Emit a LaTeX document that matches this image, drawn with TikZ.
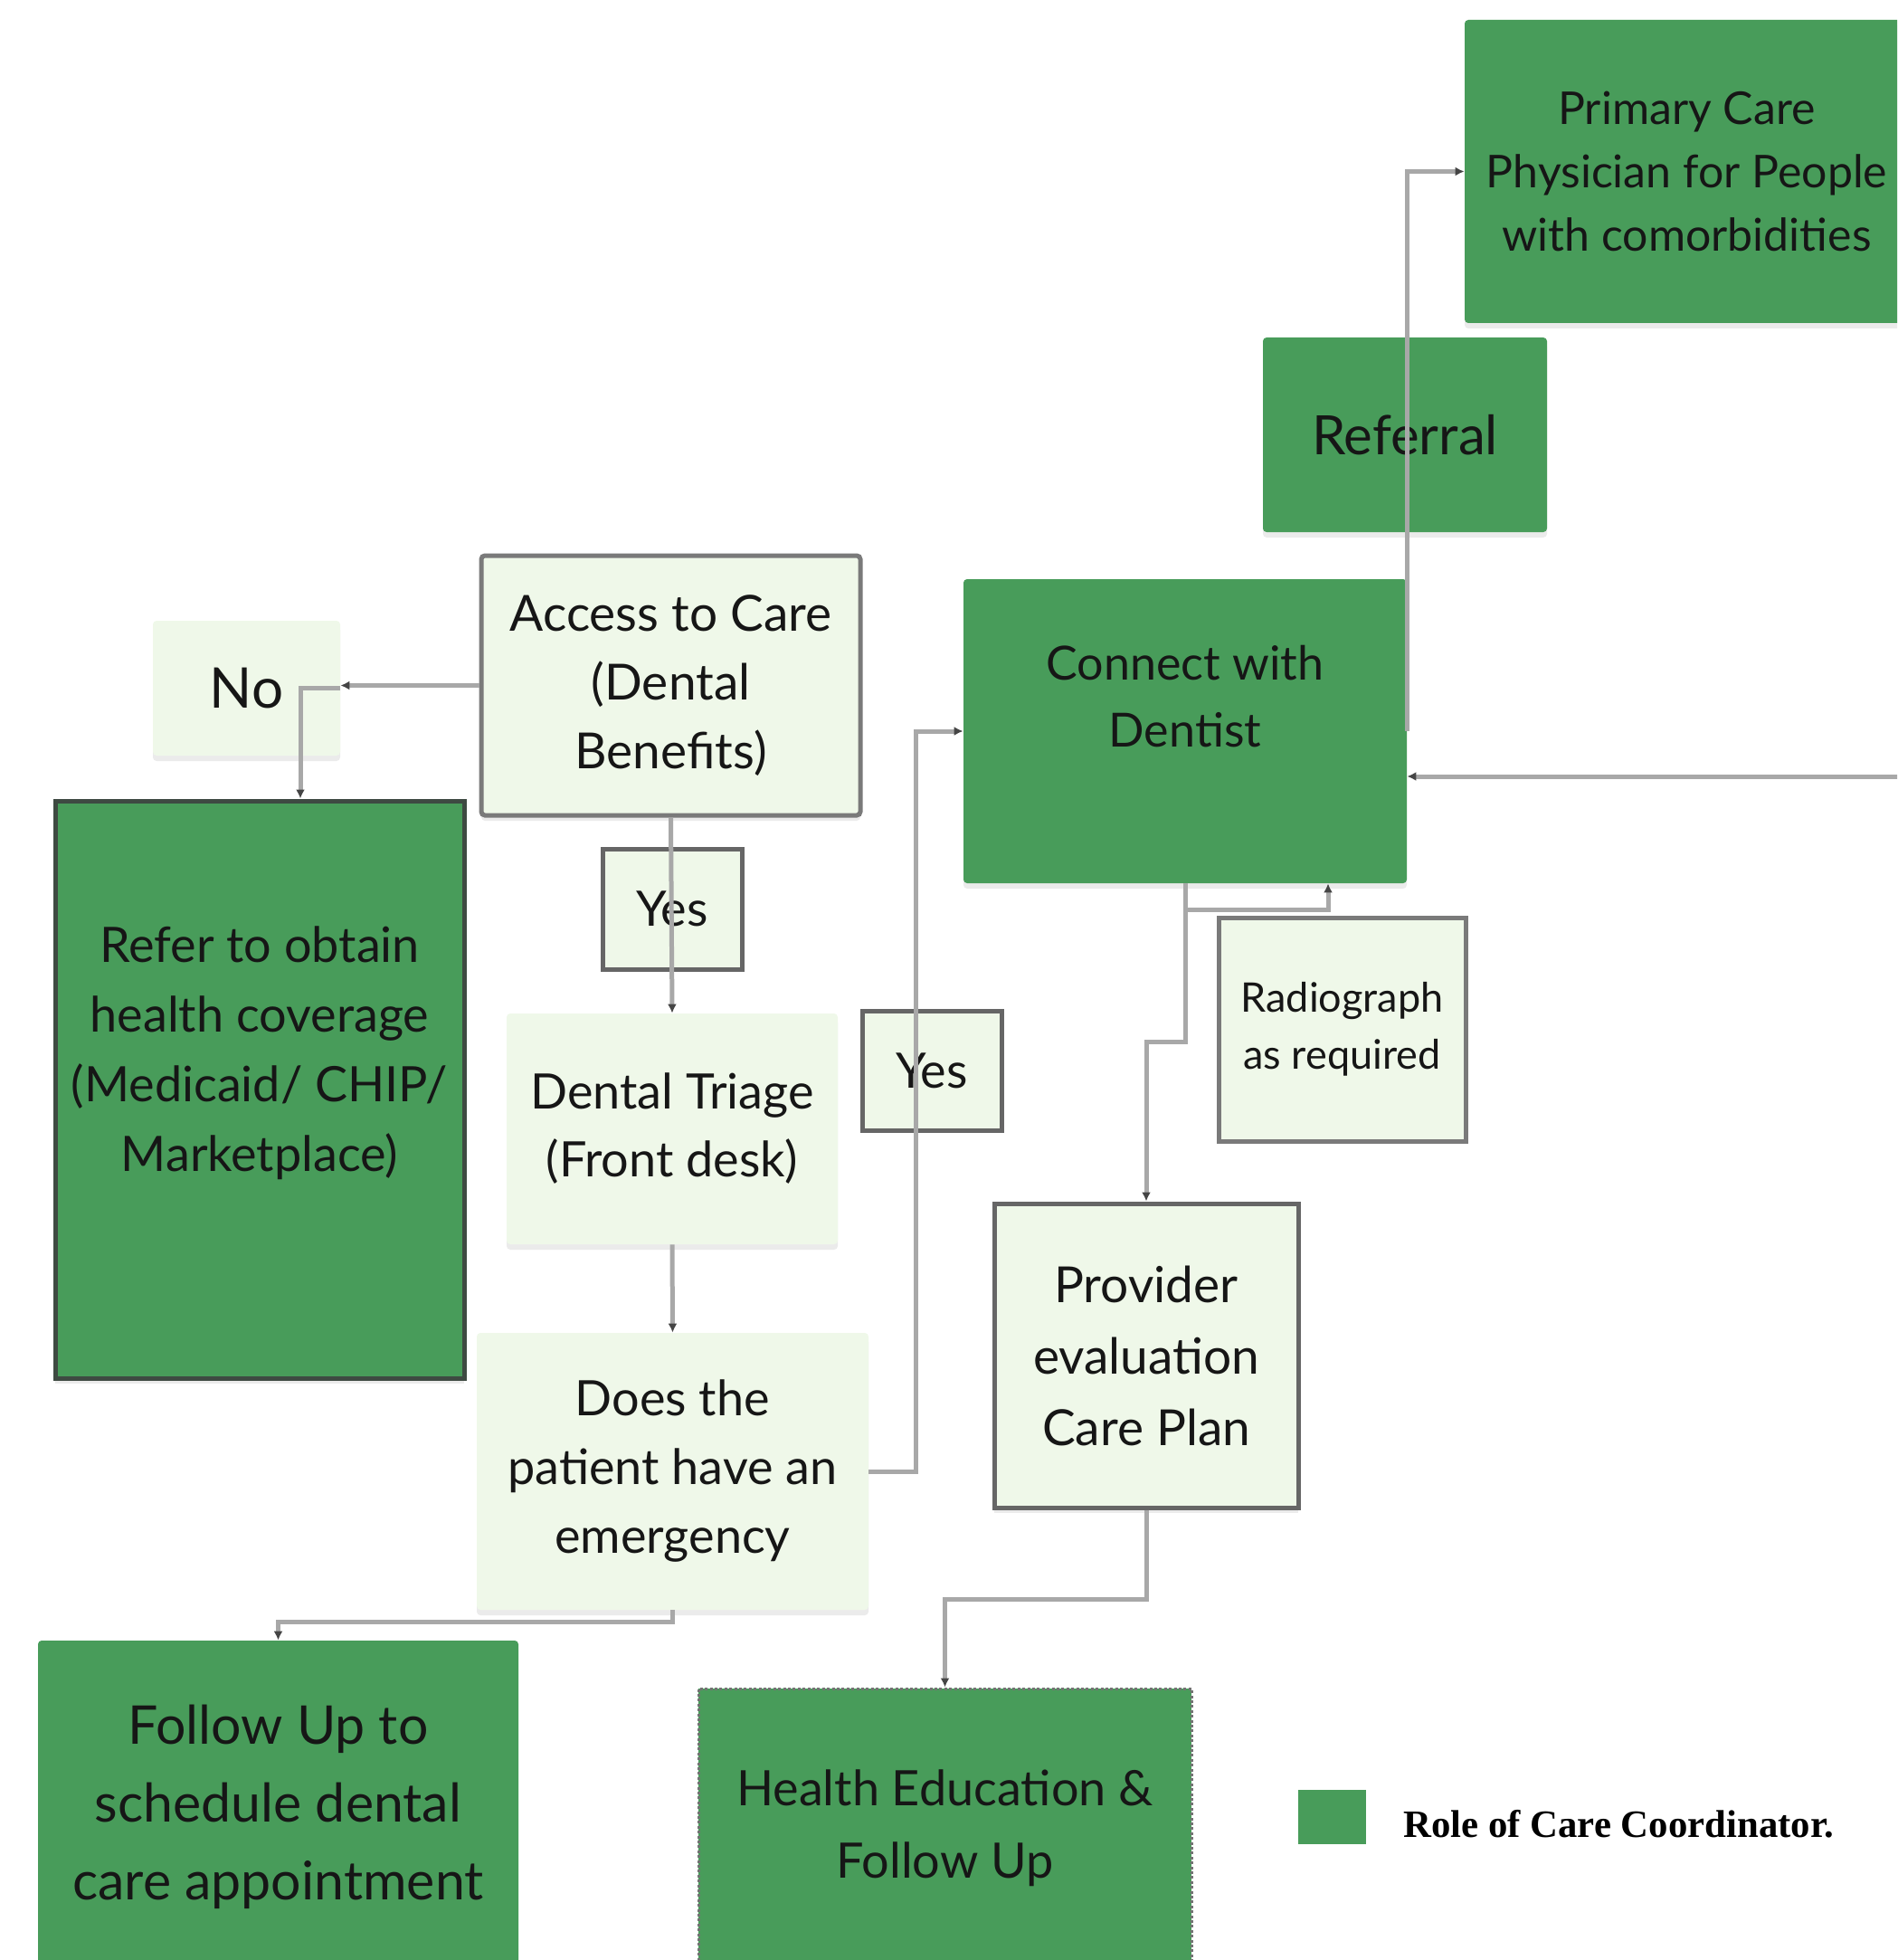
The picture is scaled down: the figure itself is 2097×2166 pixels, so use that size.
\documentclass[tikz,border=0pt]{standalone}
\usepackage{fontspec}
\newfontfamily\boxfont{Lato}
\newfontfamily\legfont{Liberation Serif}
\usetikzlibrary{arrows.meta,calc,shadows}
\definecolor{cgreen}{HTML}{489C5A}
\definecolor{clight}{HTML}{EFF8E9}
\definecolor{cline}{HTML}{A8A8A8}
\definecolor{ctip}{HTML}{454545}
\definecolor{cborder}{HTML}{7A7A7A}
\definecolor{cdark}{HTML}{3E4A42}
\definecolor{ctext}{HTML}{161616}
\begin{document}
\begin{tikzpicture}[x=0.5pt,y=-0.5pt,
  every node/.style={text=ctext, align=center, inner sep=0pt},
  fs/.style 2 args={font=\boxfont\fontsize{#1}{#2}\selectfont},
  soft/.style={drop shadow={shadow xshift=0pt,shadow yshift=-3pt,opacity=0.08,fill=black}},
  greenbox/.style={fill=cgreen, rounded corners=2pt, soft},
  lightbox/.style={fill=clight, rounded corners=2pt, soft},
  conn/.style={draw=cline, line width=2.5pt, -{Latex[length=5pt,width=5pt,color=ctip]}},
  plain/.style={draw=cline, line width=2.5pt}
]
\useasboundingbox (0,0) rectangle (2097,2166);
\clip (0,0) rectangle (2097,2166);

% ---- nodes ----
\node[greenbox, fs={25}{35}, minimum width=245.5pt, minimum height=167.5pt] (primary) at (1864.5,189.5)
  {Primary Care\\Physician for People\\with comorbidities};
\node[greenbox, fs={30}{40}, minimum width=157pt, minimum height=107.5pt] (referral) at (1553,480.5) {Referral};
\node[greenbox, minimum width=245pt, minimum height=168pt,
  label={[fs={26}{37}, align=center, yshift=19pt, text=ctext]center:Connect with\\Dentist}] (connect) at (1310,808) {};
\node[lightbox, draw=cborder, line width=2.5pt, fs={27.5}{38}, minimum width=209.5pt, minimum height=143.5pt] (access) at (741.5,757.5)
  {Access to Care\\(Dental\\Benefits)};
\node[lightbox, fs={31}{38}, minimum width=103.5pt, minimum height=74.5pt] (no) at (272.5,760.5) {No};
\node[fill=cgreen, draw=cdark, line width=2.5pt, soft, minimum width=226pt, minimum height=319pt,
  label={[fs={27}{38.5}, align=center, yshift=20pt, text=ctext]center:Refer to obtain\\health coverage\\(Medicaid/ CHIP/\\Marketplace)}] (refer) at (287,1204) {};
\node[fill=clight, draw=black!60, line width=2.5pt, fs={27}{36}, minimum width=77pt, minimum height=66.5pt] (yes1) at (743,1004.5) {Yes};
\node[lightbox, fs={27}{37.5}, minimum width=183pt, minimum height=127.5pt] (triage) at (743,1247.5)
  {Dental Triage\\(Front desk)};
\node[fill=clight, draw=black!60, line width=2.5pt, fs={27}{36}, minimum width=77pt, minimum height=66pt] (yes2) at (1030,1183) {Yes};
\node[fill=clight, draw=cborder, line width=2.5pt, fs={22.5}{31.5}, minimum width=136.5pt, minimum height=123.5pt] (radio) at (1483.5,1137.5)
  {Radiograph\\as required};
\node[fill=clight, draw=black!60, line width=2.5pt, soft, fs={27.5}{39.5}, minimum width=168pt, minimum height=168pt] (provider) at (1267,1498)
  {Provider\\evaluation\\Care Plan};
\node[lightbox, fs={27}{38}, minimum width=216.5pt, minimum height=153pt] (does) at (743.5,1626)
  {Does the\\patient have an\\emergency};
\node[greenbox, fs={29.5}{43}, minimum width=265.5pt, minimum height=184pt] (follow) at (307.5,1997)
  {Follow Up to\\schedule dental\\care appointment};
\node[fill=cgreen, draw=black!55, line width=1.5pt, dash pattern=on 1.5pt off 1.2pt, fs={27}{40}, minimum width=272.5pt, minimum height=154pt] (health) at (1044.5,2020)
  {Health Education \&\\Follow Up};

% legend
\node[fill=cgreen, minimum width=37.5pt, minimum height=30pt] (legsq) at (1472.5,2008) {};
\node[anchor=base west, font=\legfont\bfseries\fontsize{21.4}{26}\selectfont, text=black] (legtext) at (1551,2030) {Role of Care Coordinator.};

% ---- connectors ----
\coordinate (nobend) at ($(refer.north)+(45,0)$);
\coordinate (rin) at (2100,858);
\draw[conn] (access.west) -- (access.west -| no.east);
\draw[conn] (no.east) -| (nobend);
\draw[conn] (access.south) -- (triage.north);
\draw[conn] (triage.south) -- (does.north);
\draw[conn] (does.east) -- ++(52,0) |- (connect.west);
\draw[conn] (does.south) -- ++(0,13) -| (follow.north);
\draw[conn] (provider.south) -- ++(0,99) -| (health.north);
\draw[conn] (connect.south) -- ++(0,175) -| (provider.north);
\draw[conn] ($(connect.south)+(0,29)$) -| ($(connect.south)+(158,0)$);
\draw[conn] (connect.east) |- (primary.west);
\draw[conn] (rin) -- (rin -| connect.east);
\end{tikzpicture}
\end{document}
